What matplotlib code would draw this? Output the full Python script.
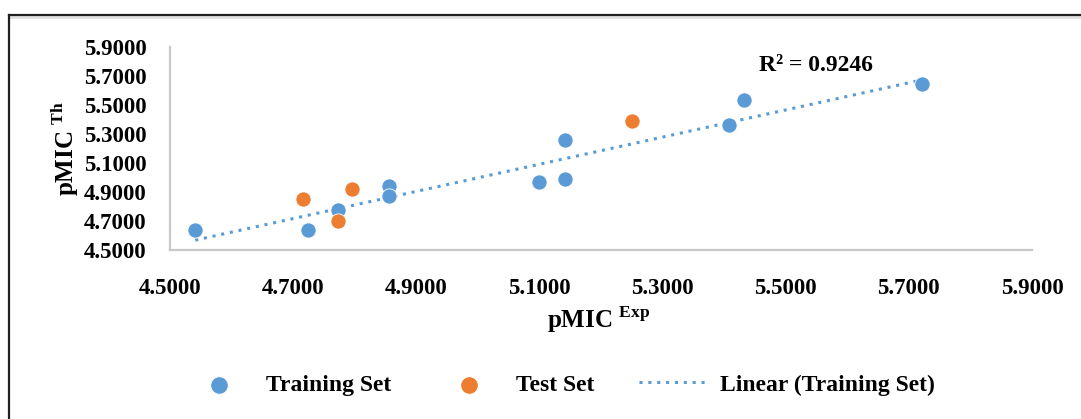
import numpy as np
import matplotlib
matplotlib.use('Agg')
import matplotlib.pyplot as plt
from matplotlib.lines import Line2D

plt.rcParams['font.family'] = ['Liberation Serif', 'DejaVu Serif']
plt.rcParams['font.weight'] = 'bold'
plt.rcParams['mathtext.fontset'] = 'custom'
plt.rcParams['mathtext.rm'] = 'Liberation Serif:bold'
plt.rcParams['mathtext.bf'] = 'Liberation Serif:bold'

# data
train_x = [4.541, 4.724, 4.773, 4.855, 4.855, 5.100, 5.142, 5.142, 5.408, 5.432, 5.721]
train_y = [4.638, 4.638, 4.776, 4.941, 4.872, 4.971, 4.992, 5.257, 5.362, 5.532, 5.645]
test_x = [4.716, 4.773, 4.796, 5.250]
test_y = [4.850, 4.700, 4.921, 5.390]
r2_text = 'R² = 0.9246'
ticks = [4.5, 4.7, 4.9, 5.1, 5.3, 5.5, 5.7, 5.9]

blue = '#5B9BD5'
orange = '#ED7D31'

fig = plt.figure(figsize=(10.81, 4.19), dpi=100)
ax = fig.add_axes([170 / 1081, 1 - 250 / 419, 862 / 1081, 203 / 419])

ax.scatter(train_x, train_y, s=120, color=blue, edgecolors='white', linewidths=0.6,
           zorder=3, label='Training Set')
ax.scatter(test_x, test_y, s=120, color=orange, edgecolors='white', linewidths=0.6,
           zorder=3, label='Test Set')

# linear trend of the training set
k, b = np.polyfit(train_x, train_y, 1)
xs = np.array([min(train_x), max(train_x)])
ax.plot(xs, k * xs + b, color=blue, lw=2.2, linestyle=(0, (1, 1.9)),
        zorder=2, label='Linear (Training Set)')

ax.text(5.549, 5.769, r2_text, fontsize=17, fontweight='bold', ha='center', va='center')

ax.set_xlim(4.5, 5.9)
ax.set_ylim(4.5, 5.9)
ax.set_xticks(ticks)
ax.set_yticks(ticks)
ax.set_xticklabels(['%.4f' % t for t in ticks], fontsize=16.5, fontweight='bold')
ax.set_yticklabels(['%.4f' % t for t in ticks], fontsize=16.5, fontweight='bold')
ax.tick_params(length=0)
ax.tick_params(axis='x', pad=20)
ax.tick_params(axis='y', pad=17)
for s in ['top', 'right']:
    ax.spines[s].set_visible(False)
for s in ['left', 'bottom']:
    ax.spines[s].set_color('#C8C8C8')
    ax.spines[s].set_linewidth(1.6)

fig.text(599 / 1081, 1 - 320 / 419, r'pMIC $^{\mathrm{Exp}}$', fontsize=18,
         fontweight='bold', ha='center', va='center')
fig.text(65 / 1081, 1 - 149 / 419, r'pMIC $^{\mathrm{Th}}$', fontsize=18,
         fontweight='bold', ha='center', va='center', rotation=90)

fig.legend(loc='center', bbox_to_anchor=(560 / 1081, 1 - 385 / 419), ncol=3,
           frameon=False, fontsize=17, handlelength=2.8, handletextpad=0.6,
           columnspacing=1.9, scatterpoints=1, markerscale=1.15)

# outer frame (top and left edges visible)
fig.add_artist(Line2D([9 / 1081, 1], [1 - 17 / 419, 1 - 17 / 419], color='#E0E0E0', lw=2,
                      transform=fig.transFigure))
fig.add_artist(Line2D([9 / 1081, 1], [1 - 15 / 419, 1 - 15 / 419], color='#202020', lw=1.6,
                      transform=fig.transFigure))
fig.add_artist(Line2D([9 / 1081, 9 / 1081], [0, 1 - 15 / 419], color='#202020', lw=1.6,
                      transform=fig.transFigure))

fig.savefig('out.png', dpi=100)
